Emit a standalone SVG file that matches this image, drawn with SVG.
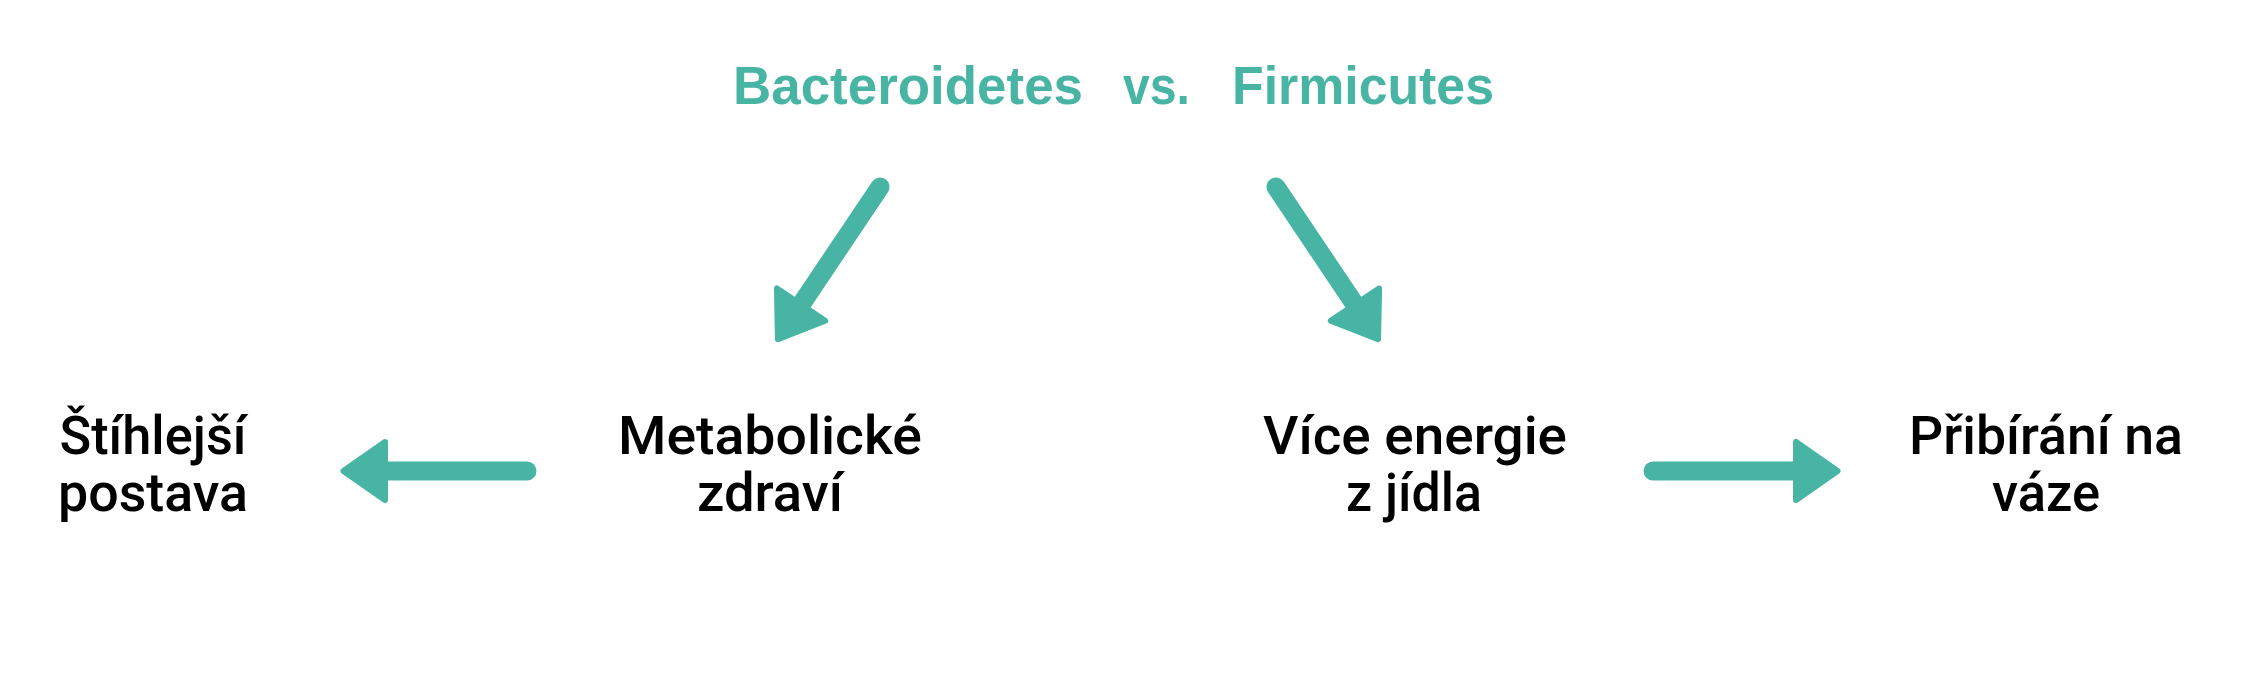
<svg xmlns="http://www.w3.org/2000/svg" xmlns:xlink="http://www.w3.org/1999/xlink" width="2244" height="676" viewBox="0 0 2244 676">
  <defs>
    <style>
      .title { font-family: "Liberation Sans", Arial, sans-serif; font-weight: bold; font-size: 53px; fill: #47B4A4; }
      .label { font-family: Roboto, "Liberation Sans", Arial, sans-serif; font-weight: 500; font-size: 54px; fill: #000000; text-anchor: middle; }
      .shaft { stroke: #47B4A4; stroke-width: 19; stroke-linecap: round; fill: none; }
      .head { fill: #47B4A4; stroke: #47B4A4; stroke-width: 6; stroke-linejoin: round; }
    </style>
    <path id="head" class="head" d="M -3.5 0 L -45 -29 L -45 29 Z"/>
  </defs>
  <rect width="2244" height="676" fill="#ffffff"/>

  <g id="title">
    <text class="title" x="733" y="103.5" textLength="350" lengthAdjust="spacingAndGlyphs">Bacteroidetes</text>
    <text class="title" x="1123" y="103.5" textLength="67" lengthAdjust="spacingAndGlyphs">vs.</text>
    <text class="title" x="1232" y="103.5" textLength="262" lengthAdjust="spacingAndGlyphs">Firmicutes</text>
  </g>

  <g id="node-stihlejsi">
    <text class="label" x="153" y="454" textLength="187" lengthAdjust="spacingAndGlyphs">Štíhlejší</text>
    <text class="label" x="153" y="511" textLength="190" lengthAdjust="spacingAndGlyphs">postava</text>
  </g>
  <g id="node-metabolicke">
    <text class="label" x="770" y="454" textLength="304" lengthAdjust="spacingAndGlyphs">Metabolické</text>
    <text class="label" x="770" y="511" textLength="146" lengthAdjust="spacingAndGlyphs">zdraví</text>
  </g>
  <g id="node-vice-energie">
    <text class="label" x="1415" y="454" textLength="304" lengthAdjust="spacingAndGlyphs">Více energie</text>
    <text class="label" x="1414" y="511" textLength="136" lengthAdjust="spacingAndGlyphs">z jídla</text>
  </g>
  <g id="node-pribirani">
    <text class="label" x="2046" y="454" textLength="274" lengthAdjust="spacingAndGlyphs">Přibírání na</text>
    <text class="label" x="2046" y="511" textLength="108" lengthAdjust="spacingAndGlyphs">váze</text>
  </g>

  <g id="connectors">
    <line class="shaft" x1="880" y1="187" x2="800.5" y2="305.4"/>
    <use xlink:href="#head" href="#head" transform="translate(776,342) rotate(123.8)"/>

    <line class="shaft" x1="1276" y1="187" x2="1355.5" y2="305.4"/>
    <use xlink:href="#head" href="#head" transform="translate(1380,342) rotate(56.2)"/>

    <line class="shaft" x1="527" y1="471" x2="380" y2="471"/>
    <use xlink:href="#head" href="#head" transform="translate(340,471) rotate(180)"/>

    <line class="shaft" x1="1653" y1="471" x2="1800" y2="471"/>
    <use xlink:href="#head" href="#head" transform="translate(1841,471)"/>
  </g>
</svg>
